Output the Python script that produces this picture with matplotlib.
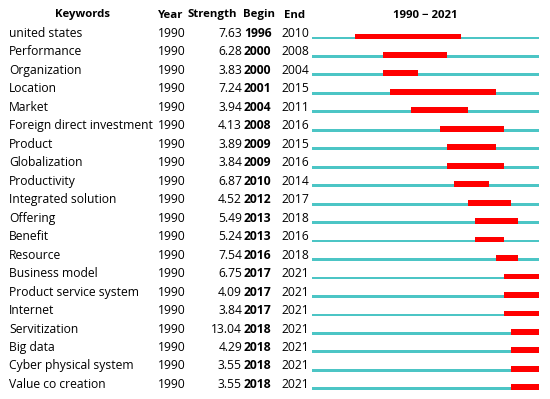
import matplotlib
matplotlib.use("Agg")
import matplotlib.pyplot as plt
from matplotlib.patches import Rectangle

keywords = ["united states", "Performance", "Organization", "Location", "Market",
            "Foreign direct investment", "Product", "Globalization", "Productivity",
            "Integrated solution", "Offering", "Benefit", "Resource", "Business model",
            "Product service system", "Internet", "Servitization", "Big data",
            "Cyber physical system", "Value co creation"]
year = [1990] * 20
strength = [7.63, 6.28, 3.83, 7.24, 3.94, 4.13, 3.89, 3.84, 6.87, 4.52,
            5.49, 5.24, 7.54, 6.75, 4.09, 3.84, 13.04, 4.29, 3.55, 3.55]
begin = [1996, 2000, 2000, 2001, 2004, 2008, 2009, 2009, 2010, 2012,
         2013, 2013, 2016, 2017, 2017, 2017, 2018, 2018, 2018, 2018]
end = [2010, 2008, 2004, 2015, 2011, 2016, 2015, 2016, 2014, 2017,
       2018, 2016, 2018, 2021, 2021, 2021, 2021, 2021, 2021, 2021]
first_year, last_year = 1990, 2021

W, H = 550, 399
fig = plt.figure(figsize=(W / 100, H / 100), dpi=100)
plt.rcParams['font.family'] = ['Open Sans', 'DejaVu Sans']

ax = fig.add_axes([0, 0, 1, 1])
ax.set_xlim(0, W)
ax.set_ylim(H, 0)
ax.axis("off")

fs = 8.7
hfs = 8.2
y0, dy = 33.5, 18.47
hy = 15

ax.text(82, hy, "Keywords", ha="center", va="center", fontsize=hfs, fontweight="bold")
ax.text(158, hy, "Year", ha="left", va="center", fontsize=hfs, fontweight="bold")
ax.text(188, hy, "Strength", ha="left", va="center", fontsize=hfs, fontweight="bold")
ax.text(243, hy, "Begin", ha="left", va="center", fontsize=hfs, fontweight="bold")
ax.text(284, hy, "End", ha="left", va="center", fontsize=hfs, fontweight="bold")
ax.text(425, hy, "%d \u2212 %d" % (first_year, last_year), ha="center", va="center",
        fontsize=hfs, fontweight="bold")

for i in range(len(keywords)):
    y = y0 + i * dy
    ax.text(9, y, keywords[i], ha="left", va="center", fontsize=fs)
    ax.text(158, y, str(year[i]), ha="left", va="center", fontsize=fs)
    ax.text(242, y, "%.2f" % strength[i], ha="right", va="center", fontsize=fs)
    ax.text(244, y, str(begin[i]), ha="left", va="center", fontsize=fs, fontweight="bold")
    ax.text(281, y, str(end[i]), ha="left", va="center", fontsize=fs)

# burst bars in year units
bx = fig.add_axes([312 / W, 0, 227 / W, 1])
bx.set_xlim(first_year, last_year + 1)
bx.set_ylim(H, 0)
bx.axis("off")
for i in range(len(keywords)):
    y = y0 + i * dy + 4.3
    bx.add_patch(Rectangle((first_year, y - 1.3), last_year + 1 - first_year, 2.8,
                           facecolor="#4cc5c5", edgecolor="none"))
    bx.add_patch(Rectangle((begin[i], y - 4.3), end[i] + 1 - begin[i], 5.8,
                           facecolor="#ff0000", edgecolor="none"))

fig.savefig("out.png", dpi=100)
